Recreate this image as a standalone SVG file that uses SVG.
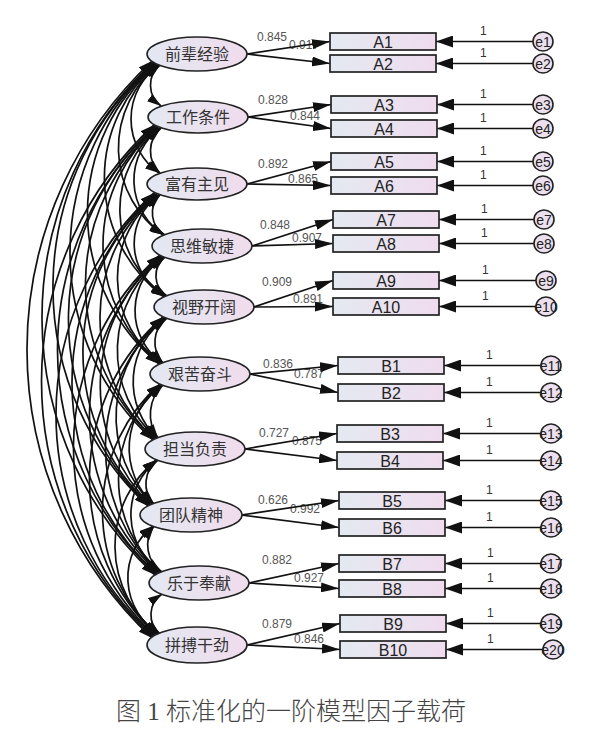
<svg xmlns="http://www.w3.org/2000/svg" width="600" height="730" viewBox="0 0 600 730">
<defs>
<linearGradient id="gb" x1="0" y1="0" x2="1" y2="0"><stop offset="0" stop-color="#e4e9f1"/><stop offset="1" stop-color="#efdcee"/></linearGradient>
<linearGradient id="ge" x1="0" y1="0" x2="1" y2="0"><stop offset="0" stop-color="#e3e8f2"/><stop offset="1" stop-color="#f0dcec"/></linearGradient>
<marker id="ha" viewBox="0 0 14 9" refX="14" refY="4.5" markerWidth="14" markerHeight="9" markerUnits="userSpaceOnUse" orient="auto-start-reverse"><path d="M0,0 L14,4.5 L0,9 z" fill="#111"/></marker>
<marker id="hb" viewBox="0 0 18 10" refX="18" refY="5" markerWidth="18" markerHeight="10" markerUnits="userSpaceOnUse" orient="auto"><path d="M0,0 L18,5 L0,10 z" fill="#111"/></marker>
<marker id="hc" viewBox="0 0 17 12" refX="17" refY="6" markerWidth="17" markerHeight="12" markerUnits="userSpaceOnUse" orient="auto"><path d="M0,0 L17,6 L0,12 z" fill="#111"/></marker>
</defs>
<style>
.cov{fill:none;stroke:#111;stroke-width:1.7;marker-start:url(#ha);marker-end:url(#ha)}
.ld{stroke:#111;stroke-width:1.7;marker-end:url(#hb)}
.er{stroke:#111;stroke-width:1.7;marker-end:url(#hc)}
.box{fill:url(#gb);stroke:#222;stroke-width:1.7}
.lv{fill:url(#ge);stroke:#222;stroke-width:1.6}
.ec{fill:#ece0ee;stroke:#222;stroke-width:1.6}
.ft{font-family:"Noto Sans CJK SC",sans-serif;font-size:16px;fill:#333;text-anchor:middle}
.bt{font-family:"Liberation Sans",Arial,sans-serif;font-size:16px;fill:#222;text-anchor:middle}
.et{font-family:"Liberation Sans",Arial,sans-serif;font-size:14px;fill:#222;text-anchor:middle}
.nt{font-family:"Liberation Sans",Arial,sans-serif;font-size:12px;fill:#555}
.one{font-family:"Liberation Sans",Arial,sans-serif;font-size:12px;fill:#333}
.cap{font-family:"Liberation Serif","Noto Sans CJK SC",serif;font-size:25px;font-weight:300;fill:#444;text-anchor:middle}
</style>
<rect width="600" height="730" fill="#fff"/>

<g id="labels">
<text class="nt" x="257" y="41">0.845</text><text class="nt" x="289" y="49">0.917</text>
<text class="nt" x="258" y="104">0.828</text><text class="nt" x="290" y="120">0.844</text>
<text class="nt" x="258" y="168">0.892</text><text class="nt" x="288" y="183">0.865</text>
<text class="nt" x="260" y="229">0.848</text><text class="nt" x="292" y="242">0.907</text>
<text class="nt" x="262" y="286">0.909</text><text class="nt" x="293" y="303">0.891</text>
<text class="nt" x="263" y="368">0.836</text><text class="nt" x="294" y="378">0.787</text>
<text class="nt" x="259" y="437">0.727</text><text class="nt" x="292" y="445">0.875</text>
<text class="nt" x="258" y="504">0.626</text><text class="nt" x="290" y="513">0.992</text>
<text class="nt" x="262" y="564">0.882</text><text class="nt" x="294" y="582">0.927</text>
<text class="nt" x="262" y="628">0.879</text><text class="nt" x="294" y="643">0.846</text>
<text class="one" x="480" y="35">1</text><text class="one" x="480" y="57">1</text>
<text class="one" x="480" y="98">1</text><text class="one" x="480" y="122">1</text>
<text class="one" x="480" y="155">1</text><text class="one" x="480" y="179">1</text>
<text class="one" x="481" y="213">1</text><text class="one" x="481" y="237">1</text>
<text class="one" x="482" y="274">1</text><text class="one" x="482" y="300">1</text>
<text class="one" x="486" y="359">1</text><text class="one" x="486" y="386">1</text>
<text class="one" x="486" y="427">1</text><text class="one" x="486" y="454">1</text>
<text class="one" x="486" y="494">1</text><text class="one" x="486" y="521">1</text>
<text class="one" x="487" y="557">1</text><text class="one" x="487" y="582">1</text>
<text class="one" x="487" y="617">1</text><text class="one" x="487" y="643">1</text>
</g>

<g id="connectors">
<path class="cov" d="M160,65 A26,26 0 0 0 161,106"/>
<path class="cov" d="M161,128 A30.3,30.3 0 0 0 160,173"/>
<path class="cov" d="M160,195 A25.3,25.3 0 0 0 165,235"/>
<path class="cov" d="M165,257 A24,24 0 0 0 167,296"/>
<path class="cov" d="M167,318 A30.5,30.5 0 0 0 163,363"/>
<path class="cov" d="M163,385 A40.4,40.4 0 0 0 158,438"/>
<path class="cov" d="M158,460 A29.4,29.4 0 0 0 154,504"/>
<path class="cov" d="M154,526 A32.3,32.3 0 0 0 162,572"/>
<path class="cov" d="M162,594 A25,25 0 0 0 160,634"/>
<path class="cov" d="M159,65 A66.1,66.1 0 0 0 159,173"/>
<path class="cov" d="M160,128 A65.1,65.1 0 0 0 164,235"/>
<path class="cov" d="M159,195 A59.5,59.5 0 0 0 166,296"/>
<path class="cov" d="M164,257 A64.2,64.2 0 0 0 162,363"/>
<path class="cov" d="M166,318 A78.3,78.3 0 0 0 157,438"/>
<path class="cov" d="M162,385 A77.2,77.2 0 0 0 153,504"/>
<path class="cov" d="M157,460 A70,70 0 0 0 161,572"/>
<path class="cov" d="M153,526 A66.1,66.1 0 0 0 159,634"/>
<path class="cov" d="M158,65 A107,107 0 0 0 163,235"/>
<path class="cov" d="M159,128 A105,105 0 0 0 165,296"/>
<path class="cov" d="M158,195 A105,105 0 0 0 161,363"/>
<path class="cov" d="M163,257 A118.5,118.5 0 0 0 156,438"/>
<path class="cov" d="M165,318 A124,124 0 0 0 152,504"/>
<path class="cov" d="M161,385 A125.1,125.1 0 0 0 160,572"/>
<path class="cov" d="M156,460 A111.1,111.1 0 0 0 158,634"/>
<path class="cov" d="M157,64 A149.2,149.2 0 0 0 164,297"/>
<path class="cov" d="M158,127 A153.4,153.4 0 0 0 160,364"/>
<path class="cov" d="M157,194 A162,162 0 0 0 155,439"/>
<path class="cov" d="M162,256 A166.4,166.4 0 0 0 151,505"/>
<path class="cov" d="M164,317 A174.3,174.3 0 0 0 159,573"/>
<path class="cov" d="M160,384 A168.6,168.6 0 0 0 157,635"/>
<path class="cov" d="M156,64 A195.7,195.7 0 0 0 159,364"/>
<path class="cov" d="M157,127 A208.8,208.8 0 0 0 154,439"/>
<path class="cov" d="M156,194 A207.7,207.7 0 0 0 150,505"/>
<path class="cov" d="M161,256 A214.4,214.4 0 0 0 158,573"/>
<path class="cov" d="M163,317 A215.6,215.6 0 0 0 156,635"/>
<path class="cov" d="M155,63 A253.5,253.5 0 0 0 153,440"/>
<path class="cov" d="M156,126 A256.9,256.9 0 0 0 149,506"/>
<path class="cov" d="M155,193 A258,258 0 0 0 157,574"/>
<path class="cov" d="M160,255 A258,258 0 0 0 155,636"/>
<path class="cov" d="M154,63 A299.3,299.3 0 0 0 148,506"/>
<path class="cov" d="M155,126 A305,305 0 0 0 156,574"/>
<path class="cov" d="M154,193 A299.3,299.3 0 0 0 154,636"/>
<path class="cov" d="M153,62 A349.7,349.7 0 0 0 155,575"/>
<path class="cov" d="M154,125 A348.6,348.6 0 0 0 153,637"/>
<path class="cov" d="M152,61 A395.4,395.4 0 0 0 152,638"/>

<line class="ld" x1="247" y1="54" x2="330" y2="41.5"/><line class="ld" x1="247" y1="54" x2="330" y2="63.5"/>
<line class="ld" x1="248" y1="117" x2="331" y2="104.5"/><line class="ld" x1="248" y1="117" x2="331" y2="128.5"/>
<line class="ld" x1="247" y1="184" x2="331" y2="161.5"/><line class="ld" x1="247" y1="184" x2="331" y2="185.5"/>
<line class="ld" x1="252" y1="246" x2="333" y2="219.5"/><line class="ld" x1="252" y1="246" x2="333" y2="243.5"/>
<line class="ld" x1="254" y1="307" x2="333" y2="280.5"/><line class="ld" x1="254" y1="307" x2="333" y2="306.5"/>
<line class="ld" x1="250" y1="374" x2="338" y2="365.5"/><line class="ld" x1="250" y1="374" x2="338" y2="392.5"/>
<line class="ld" x1="245" y1="449" x2="337" y2="433.5"/><line class="ld" x1="245" y1="449" x2="337" y2="460.5"/>
<line class="ld" x1="241" y1="515" x2="339" y2="500.5"/><line class="ld" x1="241" y1="515" x2="339" y2="527.5"/>
<line class="ld" x1="249" y1="583" x2="339" y2="563.5"/><line class="ld" x1="249" y1="583" x2="339" y2="588.5"/>
<line class="ld" x1="247" y1="645" x2="340" y2="623.5"/><line class="ld" x1="247" y1="645" x2="340" y2="649.5"/>

<line class="er" x1="533" y1="41.5" x2="436" y2="41.5"/><line class="er" x1="533" y1="63.5" x2="436" y2="63.5"/>
<line class="er" x1="533" y1="104.5" x2="437" y2="104.5"/><line class="er" x1="533" y1="128.5" x2="437" y2="128.5"/>
<line class="er" x1="533" y1="161.5" x2="437" y2="161.5"/><line class="er" x1="533" y1="185.5" x2="437" y2="185.5"/>
<line class="er" x1="534" y1="219.5" x2="439" y2="219.5"/><line class="er" x1="534" y1="243.5" x2="439" y2="243.5"/>
<line class="er" x1="536" y1="280.5" x2="439" y2="280.5"/><line class="er" x1="536" y1="306.5" x2="439" y2="306.5"/>
<line class="er" x1="541" y1="365.5" x2="444" y2="365.5"/><line class="er" x1="541" y1="392.5" x2="444" y2="392.5"/>
<line class="er" x1="541" y1="433.5" x2="443" y2="433.5"/><line class="er" x1="541" y1="460.5" x2="443" y2="460.5"/>
<line class="er" x1="541" y1="500.5" x2="445" y2="500.5"/><line class="er" x1="541" y1="527.5" x2="445" y2="527.5"/>
<line class="er" x1="541" y1="563.5" x2="445" y2="563.5"/><line class="er" x1="541" y1="588.5" x2="445" y2="588.5"/>
<line class="er" x1="541" y1="623.5" x2="446" y2="623.5"/><line class="er" x1="543" y1="649.5" x2="446" y2="649.5"/>
</g>

<g id="F1"><ellipse class="lv" cx="197" cy="54" rx="50" ry="17"/><text class="ft" x="197" y="60">前辈经验</text></g>
<g id="F2"><ellipse class="lv" cx="198" cy="117" rx="50" ry="16"/><text class="ft" x="198" y="123">工作条件</text></g>
<g id="F3"><ellipse class="lv" cx="197" cy="184" rx="50" ry="16"/><text class="ft" x="197" y="190">富有主见</text></g>
<g id="F4"><ellipse class="lv" cx="202" cy="246" rx="50" ry="17"/><text class="ft" x="202" y="252">思维敏捷</text></g>
<g id="F5"><ellipse class="lv" cx="204" cy="307" rx="50" ry="17"/><text class="ft" x="204" y="313">视野开阔</text></g>
<g id="F6"><ellipse class="lv" cx="200" cy="374" rx="50" ry="17"/><text class="ft" x="200" y="380">艰苦奋斗</text></g>
<g id="F7"><ellipse class="lv" cx="195" cy="449" rx="50" ry="17"/><text class="ft" x="195" y="455">担当负责</text></g>
<g id="F8"><ellipse class="lv" cx="191" cy="515" rx="51" ry="17"/><text class="ft" x="191" y="521">团队精神</text></g>
<g id="F9"><ellipse class="lv" cx="199" cy="583" rx="50" ry="17"/><text class="ft" x="199" y="589">乐于奉献</text></g>
<g id="F10"><ellipse class="lv" cx="197" cy="645" rx="50" ry="18"/><text class="ft" x="197" y="651">拼搏干劲</text></g>

<g id="A1"><rect class="box" x="330" y="33" width="106" height="17"/><text class="bt" x="383" y="47.5">A1</text></g>
<g id="A2"><rect class="box" x="330" y="55" width="106" height="17"/><text class="bt" x="383" y="69.5">A2</text></g>
<g id="A3"><rect class="box" x="331" y="96" width="106" height="17"/><text class="bt" x="384" y="110.5">A3</text></g>
<g id="A4"><rect class="box" x="331" y="120" width="106" height="17"/><text class="bt" x="384" y="134.5">A4</text></g>
<g id="A5"><rect class="box" x="331" y="153" width="106" height="17"/><text class="bt" x="384" y="167.5">A5</text></g>
<g id="A6"><rect class="box" x="331" y="177" width="106" height="17"/><text class="bt" x="384" y="191.5">A6</text></g>
<g id="A7"><rect class="box" x="333" y="211" width="106" height="17"/><text class="bt" x="386" y="225.5">A7</text></g>
<g id="A8"><rect class="box" x="333" y="235" width="106" height="17"/><text class="bt" x="386" y="249.5">A8</text></g>
<g id="A9"><rect class="box" x="333" y="272" width="106" height="17"/><text class="bt" x="386" y="286.5">A9</text></g>
<g id="A10"><rect class="box" x="333" y="298" width="106" height="17"/><text class="bt" x="386" y="312.5">A10</text></g>
<g id="B1"><rect class="box" x="338" y="357" width="106" height="17"/><text class="bt" x="391" y="371.5">B1</text></g>
<g id="B2"><rect class="box" x="338" y="384" width="106" height="17"/><text class="bt" x="391" y="398.5">B2</text></g>
<g id="B3"><rect class="box" x="337" y="425" width="106" height="17"/><text class="bt" x="390" y="439.5">B3</text></g>
<g id="B4"><rect class="box" x="337" y="452" width="106" height="17"/><text class="bt" x="390" y="466.5">B4</text></g>
<g id="B5"><rect class="box" x="339" y="492" width="106" height="17"/><text class="bt" x="392" y="506.5">B5</text></g>
<g id="B6"><rect class="box" x="339" y="519" width="106" height="17"/><text class="bt" x="392" y="533.5">B6</text></g>
<g id="B7"><rect class="box" x="339" y="555" width="106" height="17"/><text class="bt" x="392" y="569.5">B7</text></g>
<g id="B8"><rect class="box" x="339" y="580" width="106" height="17"/><text class="bt" x="392" y="594.5">B8</text></g>
<g id="B9"><rect class="box" x="340" y="615" width="106" height="17"/><text class="bt" x="393" y="629.5">B9</text></g>
<g id="B10"><rect class="box" x="340" y="641" width="106" height="17"/><text class="bt" x="393" y="655.5">B10</text></g>

<g id="e1"><ellipse class="ec" cx="543" cy="41.5" rx="10" ry="9.5"/><text class="et" x="543" y="46.5">e1</text></g>
<g id="e2"><ellipse class="ec" cx="543" cy="63.5" rx="10" ry="9.5"/><text class="et" x="543" y="68.5">e2</text></g>
<g id="e3"><ellipse class="ec" cx="543" cy="104.5" rx="10" ry="9.5"/><text class="et" x="543" y="109.5">e3</text></g>
<g id="e4"><ellipse class="ec" cx="543" cy="128.5" rx="10" ry="9.5"/><text class="et" x="543" y="133.5">e4</text></g>
<g id="e5"><ellipse class="ec" cx="543" cy="161.5" rx="10" ry="9.5"/><text class="et" x="543" y="166.5">e5</text></g>
<g id="e6"><ellipse class="ec" cx="543" cy="185.5" rx="10" ry="9.5"/><text class="et" x="543" y="190.5">e6</text></g>
<g id="e7"><ellipse class="ec" cx="544" cy="219.5" rx="10" ry="9.5"/><text class="et" x="544" y="224.5">e7</text></g>
<g id="e8"><ellipse class="ec" cx="544" cy="243.5" rx="10" ry="9.5"/><text class="et" x="544" y="248.5">e8</text></g>
<g id="e9"><ellipse class="ec" cx="546" cy="280.5" rx="10" ry="9.5"/><text class="et" x="546" y="285.5">e9</text></g>
<g id="e10"><ellipse class="ec" cx="546" cy="306.5" rx="10" ry="9.5"/><text class="et" x="546" y="311.5">e10</text></g>
<g id="e11"><ellipse class="ec" cx="551" cy="365.5" rx="10" ry="9.5"/><text class="et" x="551" y="370.5">e11</text></g>
<g id="e12"><ellipse class="ec" cx="551" cy="392.5" rx="10" ry="9.5"/><text class="et" x="551" y="397.5">e12</text></g>
<g id="e13"><ellipse class="ec" cx="551" cy="433.5" rx="10" ry="9.5"/><text class="et" x="551" y="438.5">e13</text></g>
<g id="e14"><ellipse class="ec" cx="551" cy="460.5" rx="10" ry="9.5"/><text class="et" x="551" y="465.5">e14</text></g>
<g id="e15"><ellipse class="ec" cx="551" cy="500.5" rx="10" ry="9.5"/><text class="et" x="551" y="505.5">e15</text></g>
<g id="e16"><ellipse class="ec" cx="551" cy="527.5" rx="10" ry="9.5"/><text class="et" x="551" y="532.5">e16</text></g>
<g id="e17"><ellipse class="ec" cx="551" cy="563.5" rx="10" ry="9.5"/><text class="et" x="551" y="568.5">e17</text></g>
<g id="e18"><ellipse class="ec" cx="551" cy="588.5" rx="10" ry="9.5"/><text class="et" x="551" y="593.5">e18</text></g>
<g id="e19"><ellipse class="ec" cx="551" cy="623.5" rx="10" ry="9.5"/><text class="et" x="551" y="628.5">e19</text></g>
<g id="e20"><ellipse class="ec" cx="553" cy="649.5" rx="10" ry="9.5"/><text class="et" x="553" y="654.5">e20</text></g>

<text class="cap" x="291" y="720">图 1 标准化的一阶模型因子载荷</text>
</svg>
